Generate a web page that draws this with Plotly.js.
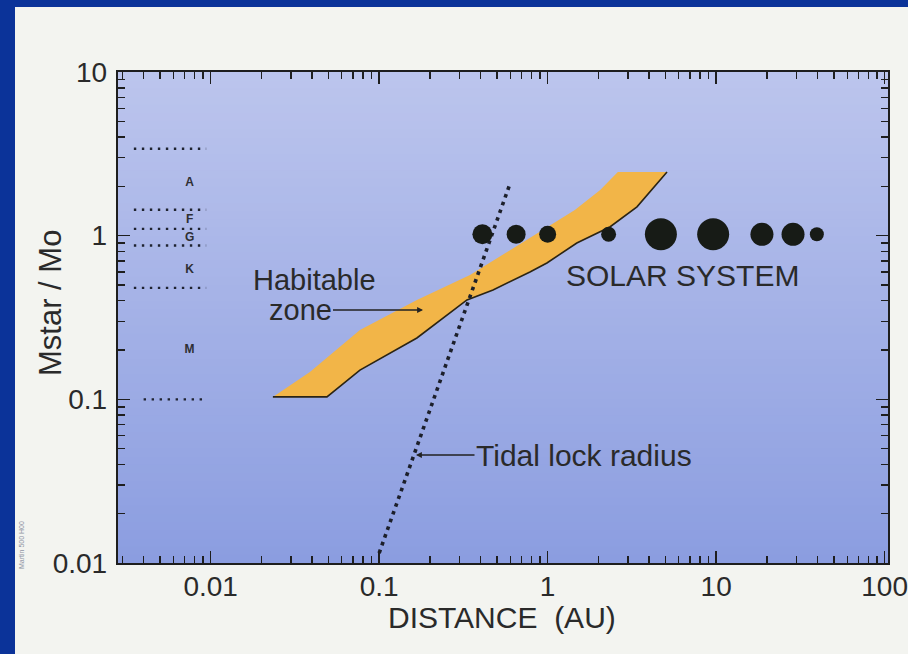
<!DOCTYPE html>
<html>
<head>
<meta charset="utf-8">
<script src="https://cdn.plot.ly/plotly-3.0.1.min.js"></script>
<style>
  html, body { margin: 0; padding: 0; background: #0b3399; }
  #chart { width: 908px; height: 654px; }
</style>
</head>
<body>
<div id="chart"></div>
<script>
// ---- data -------------------------------------------------------------
// Solar-system bodies: orbital distance (AU) at one solar mass
const planetNames = ['Mercury', 'Venus', 'Earth', 'Mars', 'Jupiter', 'Saturn', 'Uranus', 'Neptune', 'Pluto'];
const planetDist  = [0.41, 0.65, 1.0, 2.3, 4.7, 9.6, 18.7, 28.6, 39.6];
const planetMass  = [1.02, 1.02, 1.02, 1.02, 1.02, 1.02, 1.02, 1.02, 1.02];

// Habitable zone band (distance AU, stellar mass / solar mass)
const hzUpperX = [0.0234, 0.0388, 0.0769, 0.1675, 0.346, 0.785, 1.45, 2.05, 2.61];
const hzUpperY = [0.1035, 0.147, 0.265, 0.405, 0.575, 0.968, 1.435, 1.90, 2.45];
const hzLowerX = [0.049, 0.0769, 0.1675, 0.332, 0.474, 0.785, 0.99, 1.49, 2.34, 3.39, 5.11];
const hzLowerY = [0.1035, 0.151, 0.237, 0.405, 0.466, 0.600, 0.681, 0.902, 1.13, 1.50, 2.45];

// Tidal lock radius (straight line in log-log)
const tidalX = [0.1, 0.6];
const tidalY = [0.0115, 2.1];

// Spectral class boundaries (stellar mass) and class labels
const classBounds = [3.4, 1.44, 1.10, 0.87, 0.48, 0.1];
const classBoundX = [0.0035, 0.0094];
const classLabels = ['A', 'F', 'G', 'K', 'M'];
const classLabelY = [2.1, 1.25, 0.97, 0.62, 0.2];
const classLabelX = [0.0075, 0.0075, 0.0075, 0.0075, 0.0075];

// Axis ticks
const xTickVals = [0.01, 0.1, 1, 10, 100];
const xTickText = ['0.01', '0.1', '1', '10', '100'];
const yTickVals = [0.01, 0.1, 1, 10];
const yTickText = ['0.01', '0.1', '1', '10'];

// ---- styling ----------------------------------------------------------
const FONT = 'Liberation Sans, Arial, Helvetica, sans-serif';
const INK = '#2a2a2a';
const planetDotPx = [20, 19, 17, 15, 32, 32, 23, 23, 14];

// plot frame in page pixels
const W = 908, H = 654;
const PL = 118, PR = 888, PT = 72, PB = 563;
const px = v => (v - PL) / (PR - PL);     // page x -> paper x
const py = v => (PB - v) / (PB - PT);     // page y -> paper y

// ---- traces -----------------------------------------------------------
const traces = [];

// habitable zone fill
traces.push({
  x: hzUpperX.concat(hzLowerX.slice().reverse()),
  y: hzUpperY.concat(hzLowerY.slice().reverse()),
  mode: 'lines', fill: 'toself', fillcolor: '#f2b548',
  line: { width: 0, color: 'rgba(0,0,0,0)' }, hoverinfo: 'skip'
});
// dark outline along the bottom and lower edge of the band
traces.push({
  x: [hzUpperX[0]].concat(hzLowerX),
  y: [hzUpperY[0]].concat(hzLowerY),
  mode: 'lines', line: { width: 1.6, color: '#2b2414' }, hoverinfo: 'skip'
});

// spectral class boundaries
classBounds.forEach((m, i) => {
  const last = i === classBounds.length - 1;
  traces.push({
    x: last ? [0.004, 0.0095] : classBoundX,
    y: [m, m],
    mode: 'lines', line: { width: 2.4, color: '#1f2330', dash: '2.4px,5.6px' },
    hoverinfo: 'skip'
  });
});

// spectral class letters
traces.push({
  x: classLabelX, y: classLabelY, text: classLabels.map(s => '<b>' + s + '</b>'),
  mode: 'text', textfont: { family: FONT, size: 12, color: '#2e2e34' },
  hoverinfo: 'skip'
});

// tidal lock radius
traces.push({
  x: tidalX, y: tidalY,
  mode: 'lines', line: { width: 3.6, color: '#1c1f2a', dash: '3.6px,4.6px' },
  hoverinfo: 'skip'
});

// solar system bodies
traces.push({
  x: planetDist, y: planetMass, text: planetNames,
  mode: 'markers',
  marker: { size: planetDotPx, color: '#171b16', opacity: 1, line: { width: 0 } },
  hoverinfo: 'text'
});

// ---- background shapes ------------------------------------------------
const shapes = [];
// light page on the blue slide
shapes.push({
  type: 'rect', xref: 'paper', yref: 'paper', layer: 'below',
  x0: px(15), x1: px(W + 5), y0: py(H + 5), y1: py(7),
  fillcolor: '#f3f4f0', line: { width: 0 }
});
// blue wash inside the plot area, lighter at the top
const topC = [188, 197, 237], botC = [139, 157, 224];
const N = 60;
for (let i = 0; i < N; i++) {
  const t = (i + 0.5) / N;
  const c = topC.map((a, k) => Math.round(a + (botC[k] - a) * t));
  shapes.push({
    type: 'rect', xref: 'paper', yref: 'paper', layer: 'below',
    x0: 0, x1: 1, y0: 1 - (i + 1) / N - 0.002, y1: 1 - i / N,
    fillcolor: 'rgb(' + c.join(',') + ')', line: { width: 0 }
  });
}

// ---- annotations ------------------------------------------------------
const note = (o) => Object.assign({ xref: 'paper', yref: 'paper', xanchor: 'center', yanchor: 'middle', showarrow: false }, o);
const annotations = [
  note({ text: 'Habitable', x: px(314), y: py(280), font: { family: FONT, size: 29, color: INK } }),
  note({ text: 'zone', x: px(423), y: py(310),
    showarrow: true, ax: -123, ay: 0, arrowhead: 2, arrowsize: 0.9, arrowwidth: 1.3,
    arrowcolor: '#222', standoff: 0, font: { family: FONT, size: 29, color: INK } }),
  note({ text: 'SOLAR SYSTEM', x: px(682), y: py(275), font: { family: FONT, size: 30, color: INK } }),
  note({ text: 'Tidal lock radius', x: px(416), y: py(455),
    showarrow: true, ax: 168, ay: 0, arrowhead: 2, arrowsize: 0.9, arrowwidth: 1.3,
    arrowcolor: '#222', standoff: 0, font: { family: FONT, size: 30, color: INK } }),
  note({ text: 'DISTANCE  (AU)', x: px(502), y: py(617), font: { family: FONT, size: 30, color: INK } }),
  note({ text: 'Mstar / Mo', x: px(50), y: py(303), textangle: -90, font: { family: FONT, size: 31, color: INK } }),
  note({ text: 'Martin 500 H00', x: px(21), y: py(545), textangle: -90, font: { family: FONT, size: 7, color: '#8d93a3' } })
];

// ---- layout -----------------------------------------------------------
const axisCommon = {
  type: 'log', tickmode: 'array',
  ticks: 'inside', ticklen: 12, tickwidth: 1.6, tickcolor: '#1e1e1e',
  mirror: 'allticks', showline: true, linecolor: '#1e1e1e', linewidth: 2.2,
  showgrid: false, zeroline: false, fixedrange: true,
  tickfont: { family: FONT, size: 28, color: INK },
  minor: { ticks: 'inside', ticklen: 7, tickwidth: 1.4, tickcolor: '#1e1e1e', dtick: 'D1', showgrid: false }
};

const layout = {
  width: W, height: H, autosize: false,
  margin: { l: PL, r: W - PR, t: PT, b: H - PB, pad: 0 },
  paper_bgcolor: '#0b3399', plot_bgcolor: 'rgba(0,0,0,0)',
  showlegend: false,
  xaxis: Object.assign({}, axisCommon, {
    range: [-2.55, 2.02], tickvals: xTickVals, ticktext: xTickText, ticklabelstandoff: -3
  }),
  yaxis: Object.assign({}, axisCommon, {
    range: [-2, 1], tickvals: yTickVals, ticktext: yTickText, ticklabelstandoff: 3
  }),
  shapes: shapes,
  annotations: annotations
};

Plotly.newPlot('chart', traces, layout, { displayModeBar: false, staticPlot: true });
</script>
</body>
</html>
